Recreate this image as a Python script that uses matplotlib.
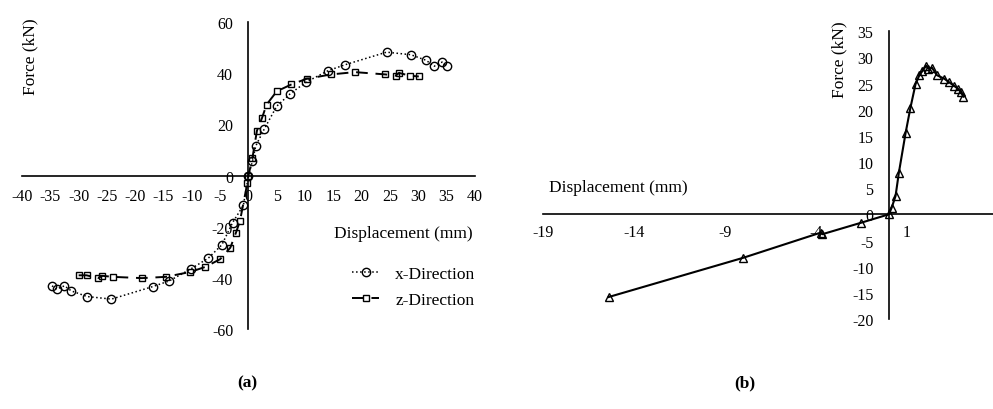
import matplotlib
matplotlib.use('Agg')
import matplotlib.pyplot as plt

plt.rcParams['font.family'] = ['Liberation Serif', 'DejaVu Serif']
plt.rcParams['axes.unicode_minus'] = False

# panel (a): cyclic test, x- and z-direction
x_disp = [-34.7, -33.9, -32.5, -31.3, -28.5, -24.2, -16.9, -14.0, -10.1, -7.1, -4.7, -2.8, -0.9, 0.0,
          0.7, 1.3, 2.8, 5.0, 7.4, 10.2, 14.1, 17.1, 24.4, 28.7, 31.4, 32.8, 34.2, 35.0]
x_force = [-43.1, -44.4, -43.1, -45.1, -47.3, -48.3, -43.4, -41.2, -36.4, -32.3, -27.1, -18.4, -11.7, 0.0,
           5.5, 11.6, 18.2, 27.1, 32.0, 36.5, 41.0, 43.3, 48.2, 47.2, 45.0, 42.7, 44.3, 42.7]
z_disp = [-30.0, -28.6, -26.6, -25.8, -24.0, -18.8, -14.6, -10.3, -7.6, -5.0, -3.2, -2.2, -1.5, -0.2, 0.0,
          0.7, 1.5, 2.4, 3.2, 5.0, 7.6, 10.3, 14.6, 18.8, 24.2, 26.0, 26.6, 28.5, 30.1]
z_force = [-39.0, -39.0, -40.1, -39.2, -39.6, -40.1, -39.6, -37.7, -35.7, -32.7, -28.2, -22.3, -17.8, -3.0, 0.0,
           6.8, 17.5, 22.5, 27.7, 32.9, 35.6, 37.8, 39.5, 40.4, 39.5, 39.0, 40.1, 39.0, 38.7]

# panel (b): monotonic test
b_disp = [-15.4, -8.0, -3.75, -3.66, -1.52, 0.0, 0.16, 0.37, 0.55, 0.92, 1.19, 1.47, 1.68, 1.83, 2.05,
          2.18, 2.38, 2.64, 3.06, 3.33, 3.61, 3.83, 3.97, 4.10]
b_force = [-15.8, -8.3, -3.5, -3.8, -1.6, 0.0, 1.3, 3.5, 7.9, 15.5, 20.4, 24.9, 26.6, 27.3, 28.4,
           27.8, 28.0, 26.6, 25.9, 25.2, 24.5, 23.9, 23.3, 22.5]

a_xticks = list(range(-40, 41, 5))
a_yticks = [-60, -40, -20, 0, 20, 40, 60]
b_xticks = [-19, -14, -9, -4, 1, 6]
b_yticks = list(range(-20, 36, 5))

fs = 11.5   # tick labels
lfs = 12.5  # axis titles / legend
fig = plt.figure(figsize=(9.93, 4.10), dpi=100)


def cross_axes(ax):
    for s in ['top', 'right']:
        ax.spines[s].set_visible(False)
    for s in ['left', 'bottom']:
        ax.spines[s].set_position('zero')
        ax.spines[s].set_linewidth(1.2)
    ax.tick_params(length=0, labelsize=fs)
    ax.patch.set_alpha(0)


ax1 = fig.add_axes([0.0222, 0.195, 0.456, 0.749])
ax1.plot(x_disp, x_force, linestyle=':', color='black', lw=1.1, marker='o', ms=6,
         mfc='none', mec='black', mew=1.0, label='x-Direction')
ax1.plot(z_disp, z_force, linestyle=(0, (6, 4)), color='black', lw=1.4, marker='s', ms=5,
         mfc='none', mec='black', mew=1.0, label='z-Direction')
ax1.set_xlim(-40, 40)
ax1.set_ylim(-60, 60)
ax1.set_xticks(a_xticks)
ax1.set_yticks(a_yticks)
cross_axes(ax1)
ax1.tick_params(axis='x', pad=9)
ax1.tick_params(axis='y', pad=11)
ax1.set_xlabel('Displacement (mm)', fontsize=lfs)
ax1.xaxis.set_label_coords(0.841, 0.339)
ax1.set_ylabel('Force (kN)', fontsize=lfs)
ax1.yaxis.set_label_coords(0.035, 0.889)
ax1.legend(loc='upper left', bbox_to_anchor=(0.728, 0.205), frameon=False, fontsize=lfs,
           handlelength=1.6, handletextpad=0.9, labelspacing=0.55, borderpad=0, borderaxespad=0)

ax2 = fig.add_axes([0.547, 0.2195, 0.458, 0.702])
ax2.plot(b_disp, b_force, linestyle='-', color='black', lw=1.5, marker='^', ms=6,
         mfc='none', mec='black', mew=1.0)
ax2.set_xlim(-19, 6)
ax2.set_ylim(-20, 35)
ax2.set_xticks(b_xticks)
ax2.set_yticks(b_yticks)
cross_axes(ax2)
ax2.tick_params(axis='x', pad=7)
ax2.tick_params(axis='y', pad=11)
ax2.set_xlabel('Displacement (mm)', fontsize=lfs)
ax2.xaxis.set_label_coords(0.165, 0.486)
ax2.set_ylabel('Force (kN)', fontsize=lfs)
ax2.yaxis.set_label_coords(0.670, 0.903)

fig.text(247 / 993, 1 - 383 / 410, '(a)', fontsize=12.5, fontweight='bold', ha='center', va='center')
fig.text(745 / 993, 1 - 383 / 410, '(b)', fontsize=12.5, fontweight='bold', ha='center', va='center')

fig.savefig('out.png', dpi=100)
